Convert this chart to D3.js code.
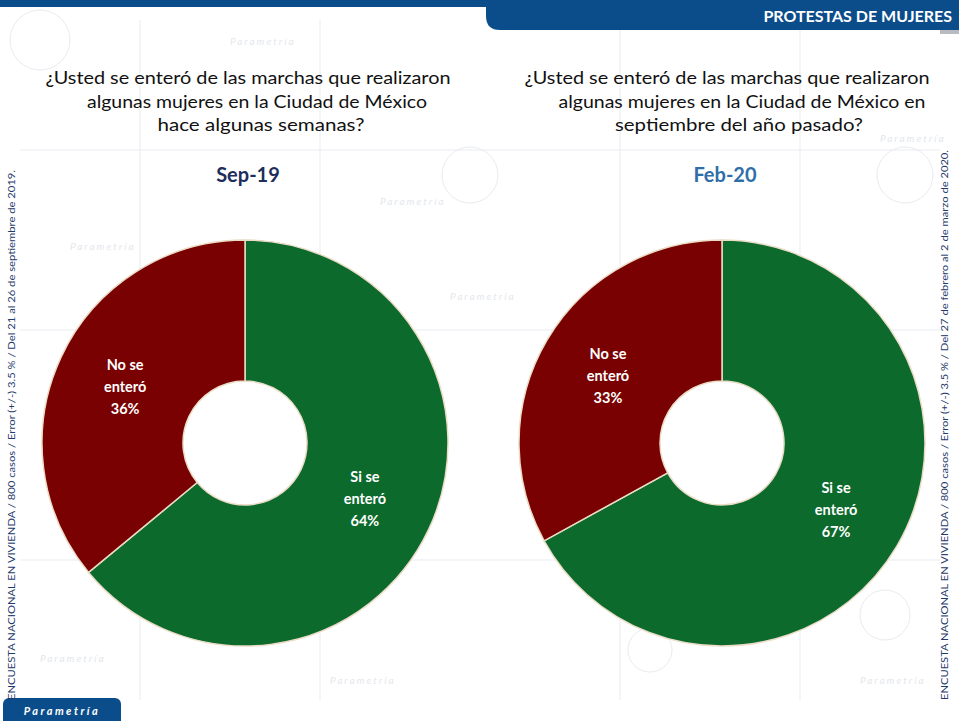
<!DOCTYPE html>
<html>
<head>
<meta charset="utf-8">
<script src="https://cdn.jsdelivr.net/npm/d3@7"></script>
<style>
  body { margin: 0; background: #fff; }
  svg { display: block; font-family: Lato, "Open Sans", sans-serif; }
</style>
</head>
<body>
<div id="chart"></div>
<script>
// values
var periods = ["Sep-19", "Feb-20"];
var categories = ["Si se enteró", "No se enteró"];
var categoryLines = [["Si se", "enteró"], ["No se", "enteró"]];
var valuesSep19 = [64, 36];
var valuesFeb20 = [67, 33];
var questionSep19 = [
    "¿Usted se enteró de las marchas que realizaron",
    "algunas mujeres en la Ciudad de México",
    "hace algunas semanas?"
];
var questionFeb20 = [
    "¿Usted se enteró de las marchas que realizaron",
    "algunas mujeres en la Ciudad de México en",
    "septiembre del año pasado?"
];
var notes = [
    "ENCUESTA NACIONAL EN VIVIENDA / 800 casos / Error (+/-) 3.5 % / Del 21 al 26 de septiembre de 2019.",
    "ENCUESTA NACIONAL EN VIVIENDA / 800 casos / Error (+/-) 3.5 % / Del 27 de febrero al 2 de marzo de 2020."
];
var headerTitle = "PROTESTAS DE MUJERES";
var brand = "Parametría";

var width = 959, height = 721;
var colors = d3.scaleOrdinal().domain(categories).range(["#0b6a2c", "#7a0101"]);

var svg = d3.select("#chart").append("svg")
    .attr("width", width)
    .attr("height", height);

// faint watermark sketches in the background
var bg = svg.append("g").attr("stroke", "#e8ebf0").attr("fill", "none").attr("stroke-width", 1);
[[40, 40, 30], [470, 175, 28], [905, 175, 28], [885, 615, 25], [650, 650, 22]].forEach(function (c) {
    bg.append("circle").attr("cx", c[0]).attr("cy", c[1]).attr("r", c[2]);
});
[[140, 20, 140, 700], [320, 20, 320, 700], [620, 20, 620, 700], [800, 20, 800, 700],
 [20, 150, 940, 150], [20, 330, 940, 330], [20, 560, 940, 560]].forEach(function (l) {
    bg.append("line").attr("x1", l[0]).attr("y1", l[1]).attr("x2", l[2]).attr("y2", l[3]);
});
[[230, 45], [380, 205], [70, 250], [880, 142], [450, 300], [40, 662], [330, 684], [860, 684]].forEach(function (p) {
    svg.append("text")
        .attr("x", p[0]).attr("y", p[1])
        .attr("font-size", 10)
        .attr("font-style", "italic")
        .attr("letter-spacing", 2)
        .attr("fill", "#e4e7ec")
        .text(brand);
});

// header tab
svg.append("rect").attr("x", 0).attr("y", 0).attr("width", 500).attr("height", 7).attr("fill", "#0b4d8a");
svg.append("path")
    .attr("d", "M486,0 H959 V30 H500 Q486,30 486,16 Z")
    .attr("fill", "#0b4d8a");
svg.append("rect").attr("x", 940).attr("y", 30).attr("width", 19).attr("height", 4).attr("fill", "#b8bcc2");
svg.append("text")
    .attr("x", 952).attr("y", 22)
    .attr("text-anchor", "end")
    .attr("font-size", 16)
    .attr("font-weight", "bold")
    .attr("fill", "#fff")
    .text(headerTitle);

// logo bottom left
svg.append("rect").attr("x", 3).attr("y", 698).attr("width", 118).attr("height", 30).attr("rx", 6).attr("fill", "#0b4d8a");
svg.append("text")
    .attr("x", 62).attr("y", 715)
    .attr("text-anchor", "middle")
    .attr("font-size", 11)
    .attr("font-weight", "bold")
    .attr("font-style", "italic")
    .attr("letter-spacing", 2.5)
    .attr("fill", "#fff")
    .text(brand);

// side notes
svg.append("text")
    .attr("transform", "translate(15,435) rotate(-90)")
    .attr("text-anchor", "middle")
    .attr("font-size", 8.5)
    .attr("fill", "#1f3a6b")
    .attr("textLength", 530)
    .attr("lengthAdjust", "spacingAndGlyphs")
    .text(notes[0]);
svg.append("text")
    .attr("transform", "translate(948,425) rotate(-90)")
    .attr("text-anchor", "middle")
    .attr("font-size", 8.5)
    .attr("fill", "#1f3a6b")
    .attr("textLength", 550)
    .attr("lengthAdjust", "spacingAndGlyphs")
    .text(notes[1]);

var pie = d3.pie().sort(null).value(function (d) { return d; });
var arc = d3.arc().innerRadius(62).outerRadius(203);

function drawPanel(cfg) {
    var g = svg.append("g");

    g.selectAll("text.question")
        .data(cfg.question)
        .enter().append("text")
        .attr("class", "question")
        .attr("x", function (d, i) { return cfg.qx[i]; })
        .attr("y", function (d, i) { return 84 + i * 23.5; })
        .attr("text-anchor", "middle")
        .attr("font-size", 17)
        .attr("fill", "#111")
        .attr("textLength", function (d, i) { return cfg.qw[i]; })
        .attr("lengthAdjust", "spacingAndGlyphs")
        .text(function (d) { return d; });

    g.append("text")
        .attr("x", cfg.cx + 3).attr("y", 182)
        .attr("text-anchor", "middle")
        .attr("font-size", 20)
        .attr("font-weight", "bold")
        .attr("fill", cfg.periodColor)
        .text(cfg.period);

    var donut = g.append("g").attr("transform", "translate(" + cfg.cx + "," + cfg.cy + ")");
    var arcs = pie(cfg.values);

    donut.selectAll("path")
        .data(arcs)
        .enter().append("path")
        .attr("d", arc)
        .attr("fill", function (d, i) { return colors(categories[i]); })
        .attr("stroke", "#eadcc6")
        .attr("stroke-width", 1.5);

    var labels = donut.selectAll("g.label")
        .data(arcs)
        .enter().append("g")
        .attr("class", "label")
        .attr("transform", function (d) {
            var c = arc.centroid(d);
            return "translate(" + c[0] + "," + c[1] + ")";
        });

    labels.append("text")
        .attr("text-anchor", "middle")
        .attr("font-size", 14.5)
        .attr("font-weight", "bold")
        .attr("fill", "#fff")
        .selectAll("tspan")
        .data(function (d, i) { return categoryLines[i].concat([cfg.values[i] + "%"]); })
        .enter().append("tspan")
        .attr("x", 0)
        .attr("y", function (d, j) { return -17 + j * 22; })
        .text(function (d) { return d; });
}

drawPanel({
    period: periods[0], values: valuesSep19, question: questionSep19,
    cx: 245, cy: 443, periodColor: "#1d2d5c",
    qx: [248, 257, 261], qw: [405, 340, 207]
});
drawPanel({
    period: periods[1], values: valuesFeb20, question: questionFeb20,
    cx: 722, cy: 443, periodColor: "#2f6ea8",
    qx: [727, 742, 739], qw: [405, 367, 248]
});
</script>
</body>
</html>
